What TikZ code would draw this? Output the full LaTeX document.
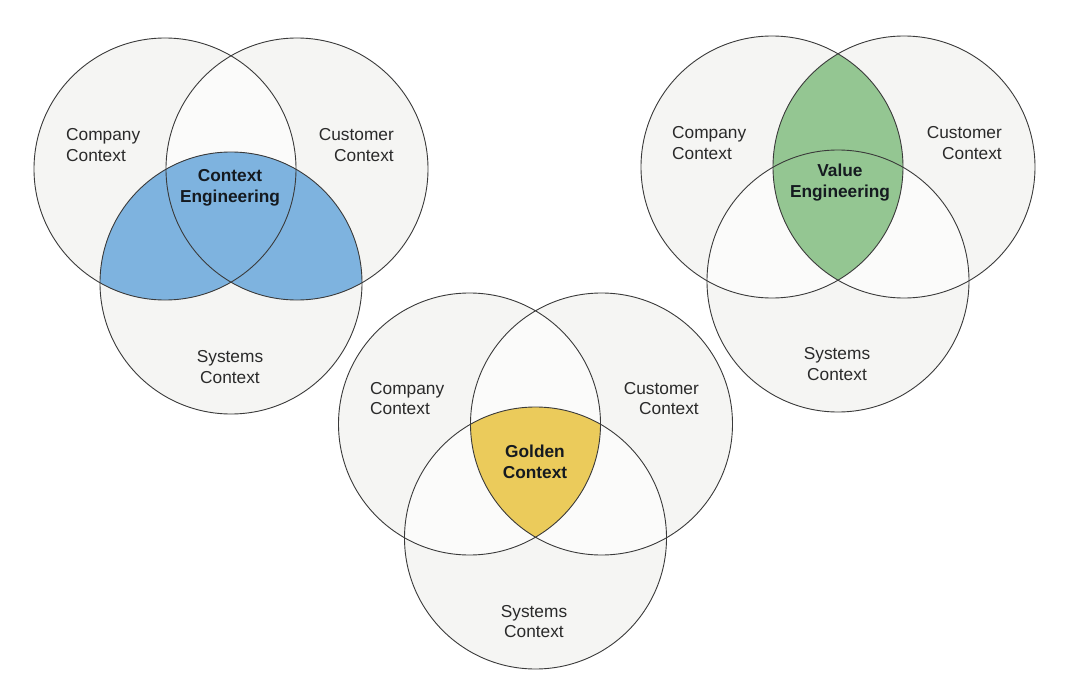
\documentclass[tikz,border=0pt]{standalone}
\usepackage{fontspec}
\setmainfont{Liberation Sans}
\definecolor{lightfill}{HTML}{F5F5F3}
\definecolor{pairfill}{HTML}{FBFBFA}
\definecolor{bluefill}{HTML}{7EB3DF}
\definecolor{greenfill}{HTML}{94C692}
\definecolor{goldfill}{HTML}{EBCB5B}
\definecolor{edge}{HTML}{3A3A3A}
\definecolor{txt}{HTML}{2A2A2A}
\definecolor{boldtxt}{HTML}{151A20}
\tikzset{
  ring/.style={draw=edge, line width=0.9pt},
  lbl/.style={text=txt, inner sep=0pt, font=\fontsize{17.3}{20.7}\selectfont},
  keylbl/.style={text=boldtxt, inner sep=0pt, align=center, font=\fontsize{17.3}{20.7}\selectfont\bfseries}
}
\newcommand{\Rad}{131pt}
\newcommand{\pairs}[3]{%
  \begin{scope}\clip (#1) circle[radius=\Rad]; \fill[pairfill] (#2) circle[radius=\Rad];\end{scope}
  \begin{scope}\clip (#1) circle[radius=\Rad]; \fill[pairfill] (#3) circle[radius=\Rad];\end{scope}
  \begin{scope}\clip (#2) circle[radius=\Rad]; \fill[pairfill] (#3) circle[radius=\Rad];\end{scope}}
\begin{document}
\begin{tikzpicture}[x=1pt,y=-1pt]
\useasboundingbox[fill=white] (0,0) rectangle (1080,693);
% centres
\coordinate (A1) at (165,169);   \coordinate (B1) at (297,169);   \coordinate (C1) at (231,283);
\coordinate (A2) at (772,167);   \coordinate (B2) at (904,167);   \coordinate (C2) at (838,281);
\coordinate (A3) at (469.5,424); \coordinate (B3) at (601.5,424); \coordinate (C3) at (535.5,538);
% base fills
\foreach \c in {A1,B1,C1,A2,B2,C2,A3,B3,C3}
  \fill[lightfill] (\c) circle[radius=\Rad];
\pairs{A1}{B1}{C1}
\pairs{A2}{B2}{C2}
\pairs{A3}{B3}{C3}
% highlights
\begin{scope}
  \clip (C1) circle[radius=\Rad];
  \fill[bluefill] (A1) circle[radius=\Rad];
  \fill[bluefill] (B1) circle[radius=\Rad];
\end{scope}
\begin{scope}
  \clip (A2) circle[radius=\Rad];
  \fill[greenfill] (B2) circle[radius=\Rad];
\end{scope}
\begin{scope}
  \clip (A3) circle[radius=\Rad];
  \clip (B3) circle[radius=\Rad];
  \fill[goldfill] (C3) circle[radius=\Rad];
\end{scope}
% outlines
\foreach \c in {A1,B1,C1,A2,B2,C2,A3,B3,C3}
  \draw[ring] (\c) circle[radius=\Rad];
% labels
\node[lbl, align=left, anchor=west] (coA1) at (66,145) {Company\\Context};
\node[lbl, align=right, anchor=east] (cuB1) at (394,145) {Customer\\Context};
\node[keylbl] (ce1) at (230,187.5) {Context\\Engineering};
\node[lbl, align=center] (sy1) at (230,367) {Systems\\Context};

\node[lbl, align=left, anchor=west] (coA2) at (672,143) {Company\\Context};
\node[lbl, align=right, anchor=east] (cuB2) at (1002,143) {Customer\\Context};
\node[keylbl] (ve2) at (840,182.5) {Value\\Engineering};
\node[lbl, align=center] (sy2) at (837,364) {Systems\\Context};

\node[lbl, align=left, anchor=west] (coA3) at (370,398.5) {Company\\Context};
\node[lbl, align=right, anchor=east] (cuB3) at (699,398.5) {Customer\\Context};
\node[keylbl] (gc3) at (535,462) {Golden\\Context};
\node[lbl, align=center] (sy3) at (534,621.5) {Systems\\Context};
\end{tikzpicture}
\end{document}
